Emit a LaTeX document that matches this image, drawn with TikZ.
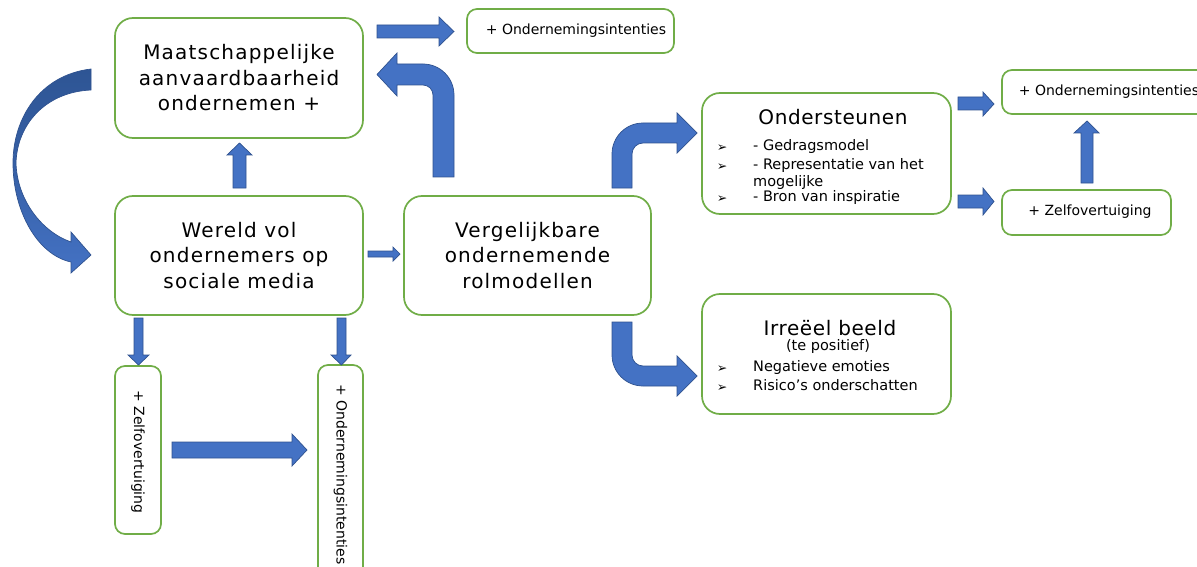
\documentclass[tikz,border=0pt]{standalone}
\usepackage{fontspec}
\setmainfont{DejaVu Sans}
\newfontfamily\trackfont[LetterSpace=6]{DejaVu Sans}
\newfontfamily\titlefont[LetterSpace=3]{DejaVu Sans}
\definecolor{boxgreen}{HTML}{70AD47}
\definecolor{arrowblue}{HTML}{4472C4}
\definecolor{arrowedge}{HTML}{2F528F}
\definecolor{darkblue}{HTML}{2E5594}
\tikzset{
  bigbox/.style={draw=boxgreen, line width=1.7pt, rounded corners=18pt, fill=white, align=center, inner sep=0pt,
    font={\trackfont\fontsize{20}{25.5}\selectfont}},
  smallbox/.style={draw=boxgreen, line width=1.7pt, rounded corners=10pt, fill=white, inner sep=0pt},
  smalltext/.style={inner sep=0pt, font={\fontsize{14}{17}\selectfont}},
  listtext/.style={inner sep=0pt, anchor=west, text height=10.5pt, text depth=3pt, font={\fontsize{14.5}{17}\selectfont}},
  bullet/.style={inner sep=0pt, font={\fontsize{12.5}{14}\selectfont}},
  titletext/.style={inner sep=0pt, font={\titlefont\fontsize{20}{24}\selectfont}},
  blockarrow/.style={fill=arrowblue, draw=arrowedge, line width=0.7pt, line join=miter},
}
\begin{document}
\begin{tikzpicture}[x=1pt,y=-1pt]
\useasboundingbox (0,0) rectangle (1197,567);
\clip (0,0) rectangle (1197,567);

% ---- boxes ----
\node[bigbox, minimum width=248pt, minimum height=120pt] (A) at (239,78) {Maatschappelijke\\aanvaardbaarheid\\ondernemen +};
\node[bigbox, minimum width=248pt, minimum height=119pt] (B) at (239,255.5) {Wereld vol\\ondernemers op\\sociale media};
\node[bigbox, minimum width=247pt, minimum height=119pt] (C) at (527.5,255.5) {Vergelijkbare\\ondernemende\\rolmodellen};
\node[bigbox, minimum width=249pt, minimum height=121pt] (D) at (826.5,153.5) {};
\node[bigbox, minimum width=249pt, minimum height=120pt] (E) at (826.5,354) {};

\node[smallbox, minimum width=207pt, minimum height=44pt] (F) at (570.5,31) {};
\node[smalltext] (Ft) at (576,31) {+ Ondernemingsintenties};
\node[smallbox, minimum width=208pt, minimum height=44pt] (G) at (1106,92) {};
\node[smalltext] (Gt) at (1109,92) {+ Ondernemingsintenties};
\node[smallbox, minimum width=169pt, minimum height=45pt] (H) at (1086.5,212.5) {};
\node[smalltext] (Ht) at (1090,212) {+ Zelfovertuiging};

\node[smallbox, minimum width=46pt, minimum height=168pt] (I) at (138,450) {};
\node[smalltext, rotate=-90] (It) at (138,452) {+ Zelfovertuiging};
\node[smallbox, minimum width=45pt, minimum height=235pt] (J) at (340.5,482.5) {};
\node[smalltext, rotate=-90, anchor=west] (Jt) at (340.5,384) {+ Ondernemingsintenties};

% ---- texts in D ----
\node[titletext] (Dt) at (833,117) {Ondersteunen};
\node[bullet] (Db1) at (722,148) {➢};
\node[bullet] (Db2) at (722,167) {➢};
\node[bullet] (Db3) at (722,199) {➢};
\node[listtext] (Dl1) at (753,147) {- Gedragsmodel};
\node[listtext] (Dl2) at (753,166) {- Representatie van het};
\node[listtext] (Dl3) at (753,183) {mogelijke};
\node[listtext] (Dl4) at (753,198) {- Bron van inspiratie};

% ---- texts in E ----
\node[titletext] (Et) at (830,328) {Irreëel beeld};
\node[inner sep=0pt, font={\fontsize{14.5}{17}\selectfont}] (Es) at (828,346) {(te positief)};
\node[bullet] (Eb1) at (722,369) {➢};
\node[bullet] (Eb2) at (722,388) {➢};
\node[listtext] (El1) at (753,368) {Negatieve emoties};
\node[listtext] (El2) at (753,387) {Risico’s onderschatten};

% ---- block arrows ----
% A -> F
\path[blockarrow] (377,25)--(439,25)--(439,17)--(454,31.5)--(439,46)--(439,38)--(377,38)--cycle;
% B -> A
\path[blockarrow] (233,188)--(233,155)--(227,155)--(239.5,143)--(252,155)--(246,155)--(246,188)--cycle;
% C -> A (bent)
\path[blockarrow] (433,177)--(454,177)--(454,95) .. controls (454,77.9) and (440.1,64) .. (423,64)
  --(397,64)--(397,53)--(377,74.5)--(397,96)--(397,85)--(423,85) .. controls (428.5,85) and (433,89.5) .. (433,95) -- cycle;
% B -> C
\path[blockarrow] (368,251)--(393,251)--(393,247)--(400,254)--(393,261)--(393,257)--(368,257)--cycle;
% C -> D (bent)
\path[blockarrow] (612,188)--(612,154) .. controls (612,136.9) and (625.9,123) .. (643,123) -- (677,123) -- (677,113) -- (697,133)
  -- (677,153) -- (677,143) -- (643,143) .. controls (636.9,143) and (632,147.9) .. (632,154) -- (632,188) -- cycle;
% C -> E (bent)
\path[blockarrow] (612,322)--(612,355) .. controls (612,372.1) and (625.9,386) .. (643,386) -- (677,386) -- (677,396) -- (697,376)
  -- (677,356) -- (677,366) -- (643,366) .. controls (636.9,366) and (632,361.1) .. (632,355) -- (632,322) -- cycle;
% B -> I
\path[blockarrow] (134,318)--(143,318)--(143,355)--(149,355)--(138.5,365)--(128,355)--(134,355)--cycle;
% B -> J
\path[blockarrow] (337,318)--(346,318)--(346,355)--(351,355)--(341.5,365)--(331,355)--(337,355)--cycle;
% I -> J
\path[blockarrow] (172,442)--(292,442)--(292,434)--(307,450)--(292,466)--(292,458)--(172,458)--cycle;
% D -> G
\path[blockarrow] (958,97)--(983,97)--(983,92)--(994,104)--(983,116)--(983,110)--(958,110)--cycle;
% D -> H
\path[blockarrow] (958,195)--(983,195)--(983,188)--(994,201.5)--(983,215)--(983,208)--(958,208)--cycle;
% H -> G
\path[blockarrow] (1081,183)--(1081,133)--(1074,133)--(1087,121)--(1099,133)--(1093,133)--(1093,183)--cycle;

% ---- curved arrow A -> B ----
\shade[top color=darkblue, bottom color=arrowblue, middle color=darkblue!60!arrowblue, draw=arrowedge, line width=0.7pt]
  (91,69) .. controls (40,75) and (13,118) .. (13,163) .. controls (13,212) and (38,255) .. (71,262)
  -- (71,273) -- (91,255) -- (71,232) -- (71,242) .. controls (42,232) and (17,200) .. (16,163)
  .. controls (17,125) and (45,92) .. (91,90) -- cycle;
\end{tikzpicture}
\end{document}
